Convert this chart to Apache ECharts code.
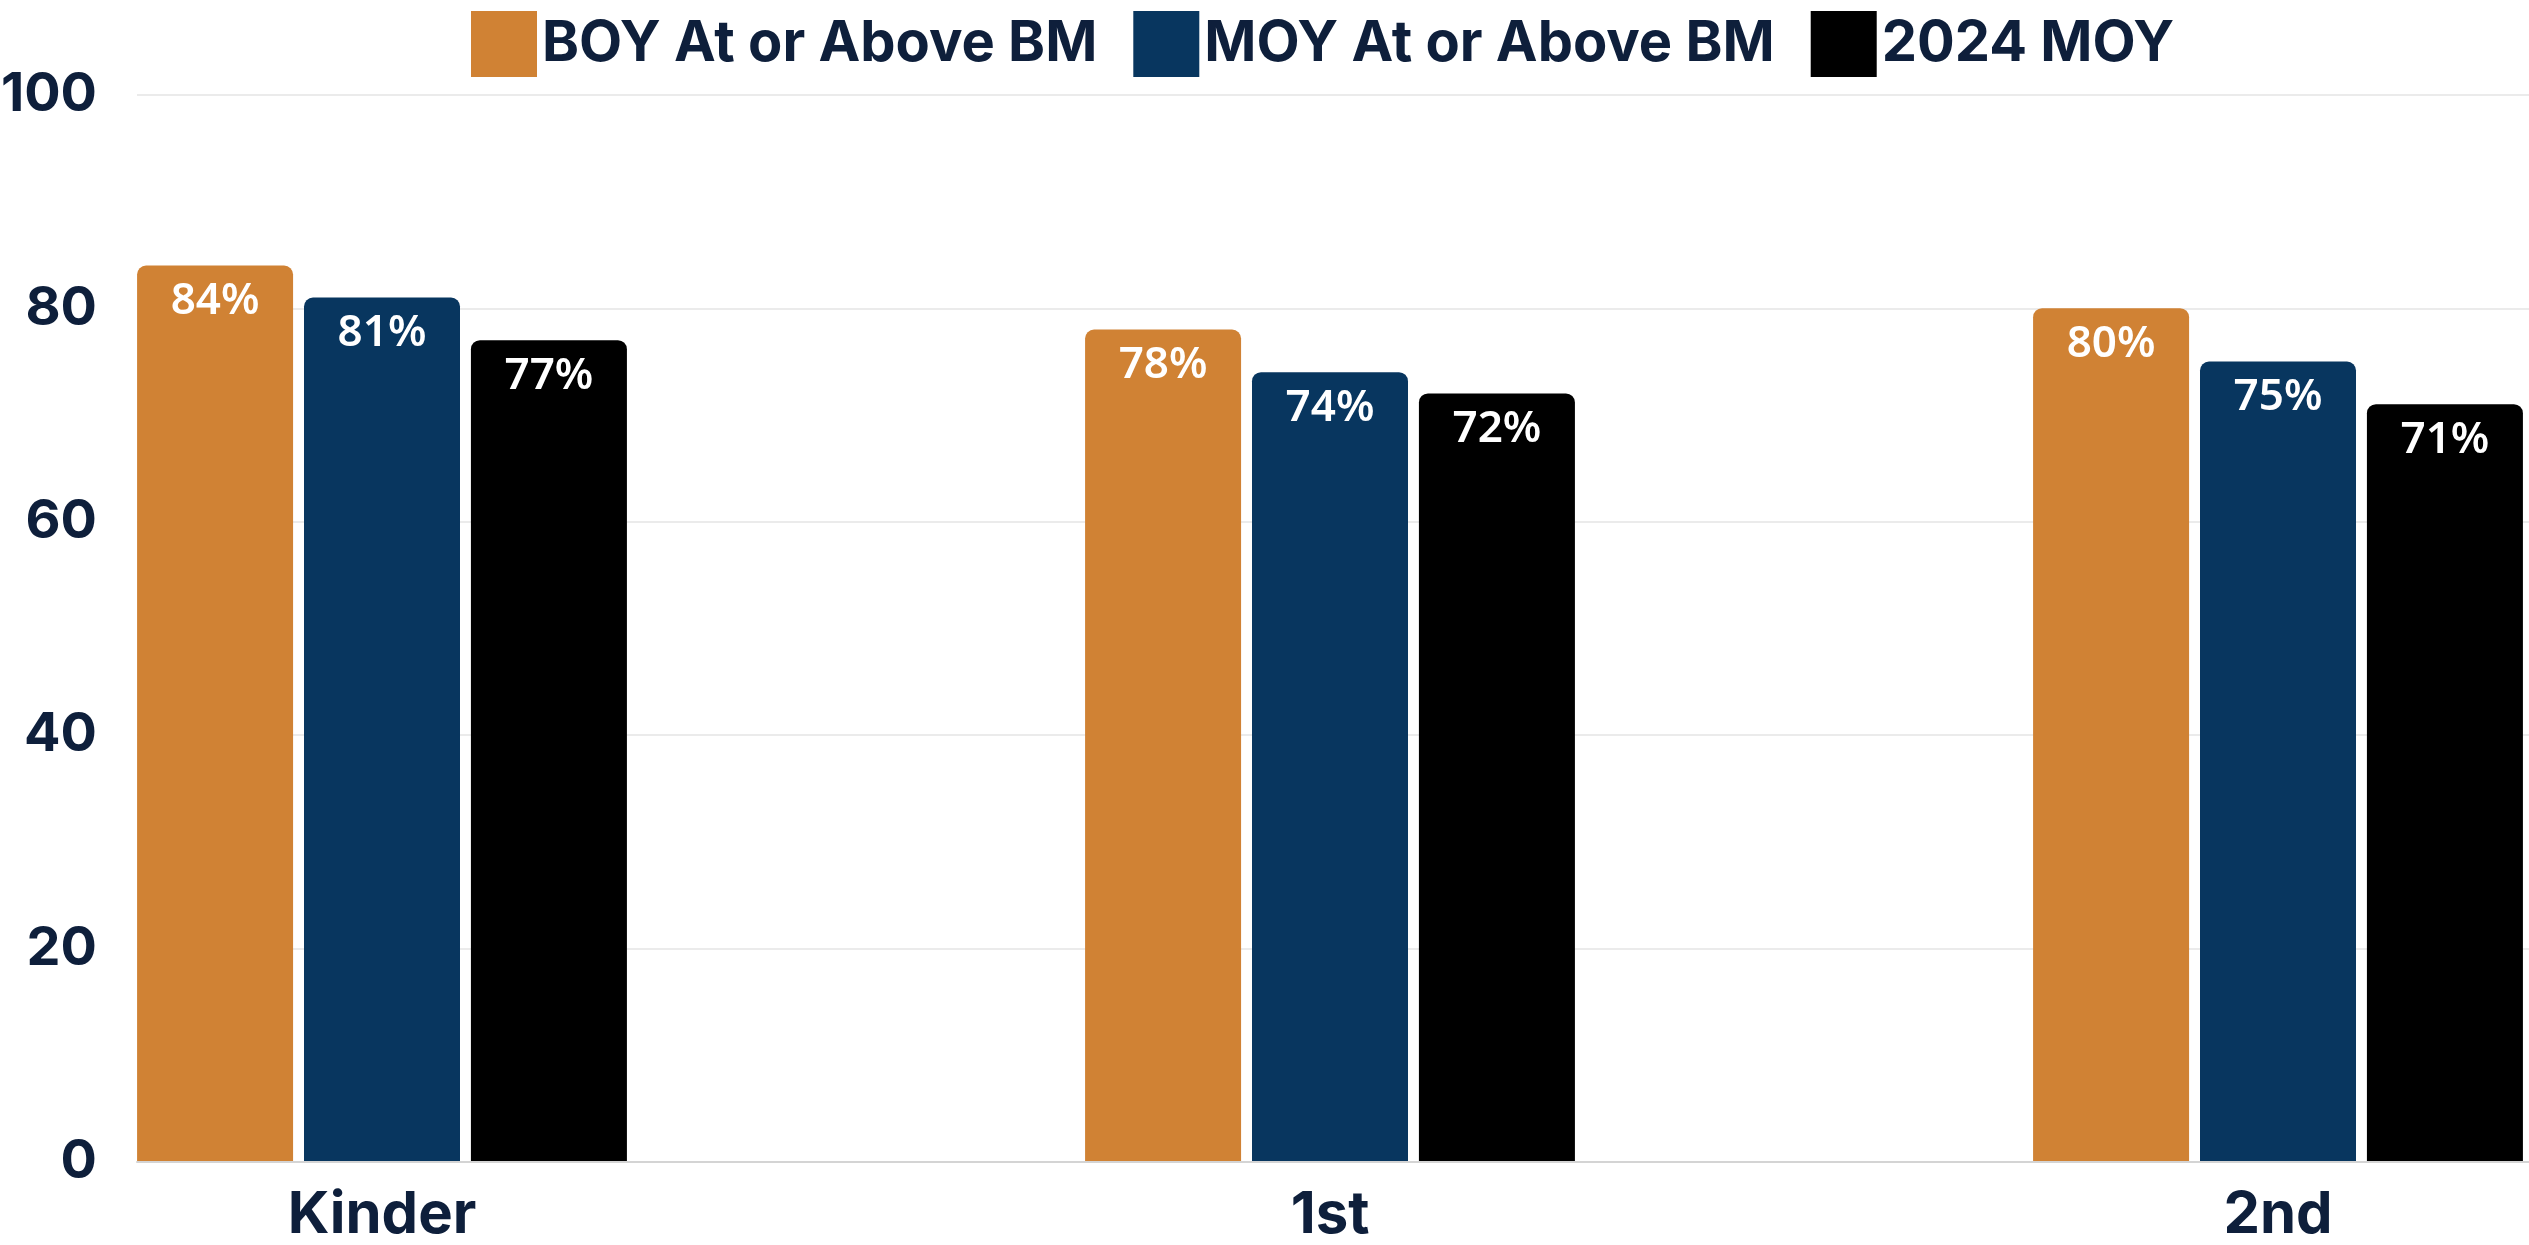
<!DOCTYPE html>
<html>
<head>
<meta charset="utf-8">
<style>html,body{margin:0;padding:0;background:#fff;overflow:hidden;width:2529px;height:1245px;}#c{width:2844px;height:1245px;margin-left:-92px;}</style>
<script src="https://cdn.jsdelivr.net/npm/echarts@6/dist/echarts.min.js"></script>
</head>
<body>
<div id="c"></div>
<script>
const categories = ['Kinder', '1st', '2nd'];
const seriesNames = ['BOY At or Above BM', 'MOY At or Above BM', '2024 MOY'];
const boyValues = [84, 78, 80];
const moyValues = [81, 74, 75];
const moy2024Values = [77, 72, 71];
const yTicks = [0, 20, 40, 60, 80, 100];
const colors = ['#D08234', '#08365F', '#000000'];

const navy = '#0E1F3B';
const boldFont = 'Inter';
const chart = echarts.init(document.getElementById('c'));

function barSeries(name, data, color) {
  return {
    name: name, type: 'bar', xAxisIndex: 0, yAxisIndex: 0,
    data: data, barWidth: 156, barGap: '7%',
    itemStyle: { color: color, borderRadius: [9, 9, 0, 0] },
    label: {
      show: true, position: 'insideTop', distance: 14,
      color: '#ffffff', fontFamily: 'Noto Sans', fontWeight: 600, fontSize: 44,
      formatter: p => p.value + '%'
    }
  };
}

chart.setOption({
  animation: false,
  backgroundColor: '#ffffff',
  legend: {
    left: 558, top: 6,
    itemWidth: 66, itemHeight: 66, itemGap: 36,
    icon: 'rect',
    textStyle: { fontFamily: boldFont, fontWeight: 700, fontSize: 56, color: navy },
    data: seriesNames
  },
  grid: [
    { left: 0, right: 0, top: 95, bottom: 83 },
    { left: 229, right: 223, top: 95, bottom: 83 }
  ],
  xAxis: [
    {
      type: 'category', gridIndex: 0, data: categories,
      axisLine: { show: false }, axisTick: { show: false },
      axisLabel: { margin: 26, fontFamily: boldFont, fontWeight: 700, fontSize: 58, color: navy }
    },
    {
      type: 'category', gridIndex: 1, data: categories,
      axisLine: { show: true, lineStyle: { color: '#d4d4d4', width: 2 } },
      axisTick: { show: false }, axisLabel: { show: false }
    }
  ],
  yAxis: [
    {
      type: 'value', gridIndex: 0, min: yTicks[0], max: yTicks[yTicks.length - 1], interval: 20,
      show: false, splitLine: { show: false }
    },
    {
      type: 'value', gridIndex: 1, min: yTicks[0], max: yTicks[yTicks.length - 1], interval: 20,
      axisLine: { show: false }, axisTick: { show: false },
      splitLine: { show: true, lineStyle: { color: '#ebebeb', width: 2 } },
      axisLabel: { margin: 40, fontFamily: boldFont, fontWeight: 700, fontSize: 54, color: navy }
    }
  ],
  series: [
    barSeries(seriesNames[0], boyValues, colors[0]),
    barSeries(seriesNames[1], moyValues, colors[1]),
    barSeries(seriesNames[2], moy2024Values, colors[2])
  ]
});
</script>
</body>
</html>
